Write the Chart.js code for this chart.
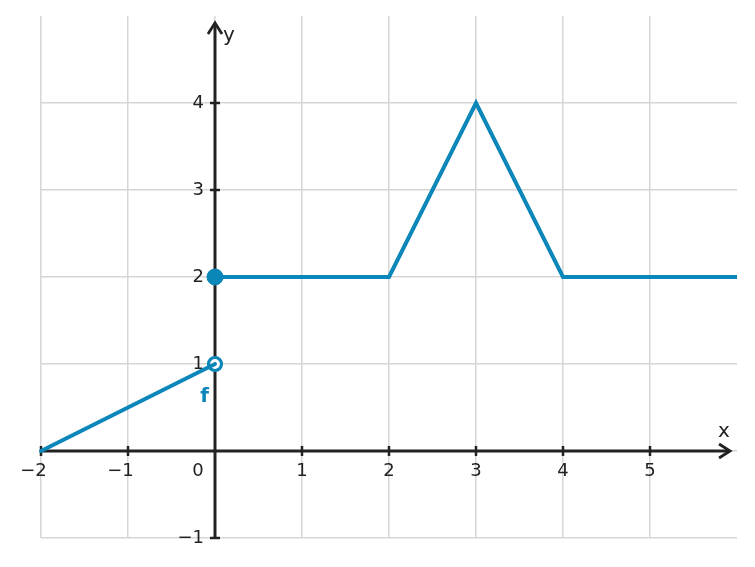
<!DOCTYPE html>
<html>
<head>
<meta charset="utf-8">
<script src="https://cdn.jsdelivr.net/npm/chart.js@4/dist/chart.umd.min.js"></script>
<style>
html,body{margin:0;padding:0;background:#fff;}
#wrap{width:755px;height:567px;position:relative;}
</style>
</head>
<body>
<div id="wrap"><canvas id="c"></canvas></div>
<script>
// Data
const seg1X = [-2, 0];
const seg1Y = [0, 1];
const seg2X = [0, 2, 3, 4, 6];
const seg2Y = [2, 2, 4, 2, 2];
const closedPointX = [0];
const closedPointY = [2];
const openPointX = [0];
const openPointY = [1];
const xTickLabels = [-2, -1, 0, 1, 2, 3, 4, 5];
const yTickLabels = [-1, 1, 2, 3, 4];
const funcLabel = 'f';
const funcLabelPos = [-0.12, 0.62];

const BLUE = '#0a87b8';
const AXIS = '#222222';
const GRID = '#d6d6d6';
const FONT = '"DejaVu Sans", sans-serif';
const X_MIN = -2, X_MAX = 6, Y_MIN = -1, Y_MAX = 5;

function pts(xs, ys){ return xs.map((x,i)=>({x:x, y:ys[i]})); }
function fmt(v){ return v < 0 ? '\u2212' + Math.abs(v) : String(v); }

const axesPlugin = {
  id: 'axesPlugin',
  beforeDatasetsDraw(chart){
    const ctx = chart.ctx;
    const xs = chart.scales.x, ys = chart.scales.y;
    const x0 = xs.getPixelForValue(0), y0 = ys.getPixelForValue(0);
    const xL = xs.getPixelForValue(-2), xR = xs.getPixelForValue(5.92);
    const yB = ys.getPixelForValue(-1), yT = ys.getPixelForValue(4.92);
    ctx.save();
    ctx.strokeStyle = AXIS; ctx.lineWidth = 3; ctx.lineCap = 'butt';
    // x axis
    ctx.beginPath(); ctx.moveTo(xL, y0); ctx.lineTo(xR - 1, y0); ctx.stroke();
    // y axis
    ctx.beginPath(); ctx.moveTo(x0, yB); ctx.lineTo(x0, yT + 1); ctx.stroke();
    // arrows
    ctx.lineWidth = 2.8; ctx.lineJoin = 'miter';
    ctx.beginPath(); ctx.moveTo(xR - 11, y0 - 7); ctx.lineTo(xR, y0); ctx.lineTo(xR - 11, y0 + 7); ctx.stroke();
    ctx.beginPath(); ctx.moveTo(x0 - 7, yT + 11); ctx.lineTo(x0, yT); ctx.lineTo(x0 + 7, yT + 11); ctx.stroke();
    // ticks
    ctx.lineWidth = 2.5;
    xTickLabels.forEach(v => {
      if (v === 0) return;
      const px = xs.getPixelForValue(v);
      ctx.beginPath(); ctx.moveTo(px, y0 - 5); ctx.lineTo(px, y0 + 5); ctx.stroke();
    });
    yTickLabels.forEach(v => {
      const py = ys.getPixelForValue(v);
      ctx.beginPath(); ctx.moveTo(x0 - 5, py); ctx.lineTo(x0 + 5, py); ctx.stroke();
    });
    // labels
    ctx.fillStyle = AXIS;
    ctx.font = '18px ' + FONT;
    ctx.textBaseline = 'middle';
    xTickLabels.forEach(v => {
      const px = xs.getPixelForValue(v);
      if (v === 0) {
        ctx.textAlign = 'center';
        ctx.fillText('0', px - 17, y0 + 20);
        return;
      }
      const digit = String(Math.abs(v));
      const dw = ctx.measureText(digit).width;
      ctx.textAlign = 'right';
      ctx.fillText(fmt(v), px + dw / 2, y0 + 20);
    });
    ctx.textAlign = 'right';
    yTickLabels.forEach(v => {
      const py = ys.getPixelForValue(v);
      ctx.fillText(fmt(v), x0 - 11, py);
    });
    // axis names
    ctx.font = '20px ' + FONT;
    ctx.textAlign = 'center';
    ctx.fillText('x', xs.getPixelForValue(5.85), y0 - 19);
    ctx.fillText('y', x0 + 14, yT + 13);
    // function label
    ctx.fillStyle = BLUE;
    ctx.font = 'bold 20px ' + FONT;
    ctx.fillText(funcLabel, xs.getPixelForValue(funcLabelPos[0]), ys.getPixelForValue(funcLabelPos[1]));
    ctx.restore();
  }
};

new Chart(document.getElementById('c'), {
  type: 'scatter',
  data: {
    datasets: [
      { data: pts(seg1X, seg1Y), showLine: true, borderColor: BLUE, borderWidth: 4, pointRadius: 0, borderCapStyle: 'round', clip: 4 },
      { data: pts(seg2X, seg2Y), showLine: true, borderColor: BLUE, borderWidth: 4, pointRadius: 0, borderJoinStyle: 'miter', clip: 0 },
      { data: pts(closedPointX, closedPointY), pointRadius: 8, pointBackgroundColor: BLUE, pointBorderColor: BLUE, pointBorderWidth: 1 },
      { data: pts(openPointX, openPointY), pointRadius: 6.5, pointBackgroundColor: '#ffffff', pointBorderColor: BLUE, pointBorderWidth: 3.2 }
    ]
  },
  options: {
    responsive: true,
    maintainAspectRatio: false,
    animation: false,
    events: [],
    layout: { padding: { left: 41, right: 18, top: 16, bottom: 29 } },
    plugins: { legend: { display: false }, tooltip: { enabled: false } },
    scales: {
      x: {
        type: 'linear', min: X_MIN, max: X_MAX,
        ticks: { display: false, stepSize: 1 },
        grid: { color: c => (c.tick && c.tick.value === X_MAX) ? 'rgba(0,0,0,0)' : GRID, lineWidth: 1.5, drawTicks: false },
        border: { display: false }
      },
      y: {
        type: 'linear', min: Y_MIN, max: Y_MAX,
        ticks: { display: false, stepSize: 1 },
        grid: { color: c => (c.tick && c.tick.value === Y_MAX) ? 'rgba(0,0,0,0)' : GRID, lineWidth: 1.5, drawTicks: false },
        border: { display: false }
      }
    }
  },
  plugins: [axesPlugin]
});
</script>
</body>
</html>
